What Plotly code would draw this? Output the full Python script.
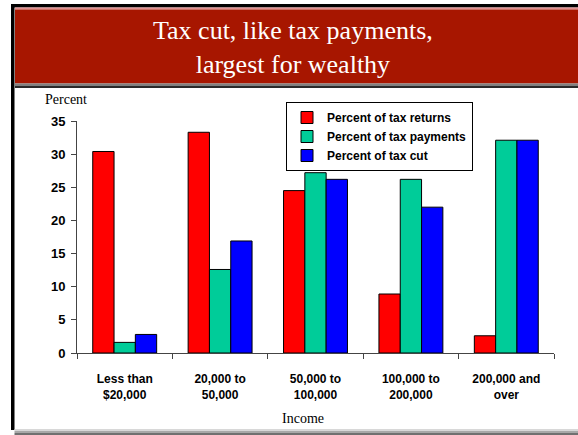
import plotly.graph_objects as go

categories = ["Less than<br>$20,000", "20,000 to<br>50,000", "50,000 to<br>100,000",
              "100,000 to<br>200,000", "200,000 and<br>over"]
series_names = ["Percent of tax returns", "Percent of tax payments", "Percent of tax cut"]
tax_returns = [30.4, 33.3, 24.5, 8.9, 2.6]
tax_payments = [1.6, 12.6, 27.2, 26.2, 32.1]
tax_cut = [2.8, 16.9, 26.2, 22.0, 32.1]
colors = ["#FF0000", "#00CC99", "#0000FF"]
y_ticks = [0, 5, 10, 15, 20, 25, 30, 35]

W, H = 578, 435
L, R, T, B = 77, 554, 121, 353


def px(x):
    return (x - L) / (R - L)


def py(y):
    return (B - y) / (B - T)


NARROW = "Liberation Sans Narrow, Arial Narrow, Liberation Sans, Arial, sans-serif"
SERIF = "Liberation Serif, Times New Roman, serif"

fig = go.Figure()
for name, vals, col in zip(series_names, [tax_returns, tax_payments, tax_cut], colors):
    fig.add_trace(go.Bar(
        name=name, x=categories, y=vals,
        marker=dict(color=col, line=dict(color="#000000", width=1)),
    ))

shapes = []


def rect(x0, y0, x1, y1, color):
    shapes.append(dict(type="rect", xref="paper", yref="paper",
                       x0=px(x0), x1=px(x1), y0=py(y0), y1=py(y1),
                       fillcolor=color, line=dict(width=0), layer="below"))


# frame and banner
rect(11, 4, 578, 7.5, "#000000")
rect(11, 4, 14.5, 430, "#000000")
rect(15, 7.5, 578, 9.5, "#E09090")
rect(15, 9.5, 578, 83.5, "#A71600")
rect(15, 83.5, 578, 86, "#808080")
rect(15, 86, 578, 88, "#2A2A2A")
rect(14.5, 429, 578, 431, "#D8D8D8")
rect(14.5, 431, 578, 433, "#A8A8A8")
rect(14.5, 433, 578, 435, "#707070")

annotations = [
    dict(text="Tax cut, like tax payments,<br>largest for wealthy", xref="paper", yref="paper",
         x=px(293), y=py(48), xanchor="center", yanchor="middle", showarrow=False,
         font=dict(family=SERIF, size=26, color="#FFFFFF")),
    dict(text="Percent", xref="paper", yref="paper", x=px(43), y=py(99),
         xanchor="left", yanchor="middle", showarrow=False,
         font=dict(family=SERIF, size=14, color="#000000")),
    dict(text="Income", xref="paper", yref="paper", x=px(303), y=py(418),
         xanchor="center", yanchor="middle", showarrow=False,
         font=dict(family=SERIF, size=14, color="#000000")),
]

fig.update_layout(
    width=W, height=H,
    margin=dict(l=L, r=W - R, t=T, b=H - B, pad=0),
    paper_bgcolor="#FFFFFF", plot_bgcolor="#FFFFFF",
    barmode="group", bargap=0.33, bargroupgap=0,
    showlegend=True,
    legend=dict(x=px(286), y=py(102), xanchor="left", yanchor="top",
                bgcolor="#FFFFFF", bordercolor="#000000", borderwidth=1,
                font=dict(family=NARROW, size=12, color="#000000", weight="bold"),
                itemwidth=30, tracegroupgap=0),
    shapes=shapes,
    annotations=annotations,
    xaxis=dict(type="category", showline=True, linecolor="#444444", linewidth=1,
               ticks="outside", tickson="boundaries", ticklen=5, tickcolor="#444444",
               showgrid=False, zeroline=False, ticklabelstandoff=15,
               tickfont=dict(family=NARROW, size=12, color="#000000", weight="bold")),
    yaxis=dict(range=[0, 35], tickvals=y_ticks, showline=True, linecolor="#444444",
               linewidth=1, ticks="outside", ticklen=5, tickcolor="#444444",
               showgrid=False, zeroline=False, ticklabelstandoff=3,
               tickfont=dict(family=NARROW, size=13, color="#000000", weight="bold")),
)

fig.write_html("out.html")
